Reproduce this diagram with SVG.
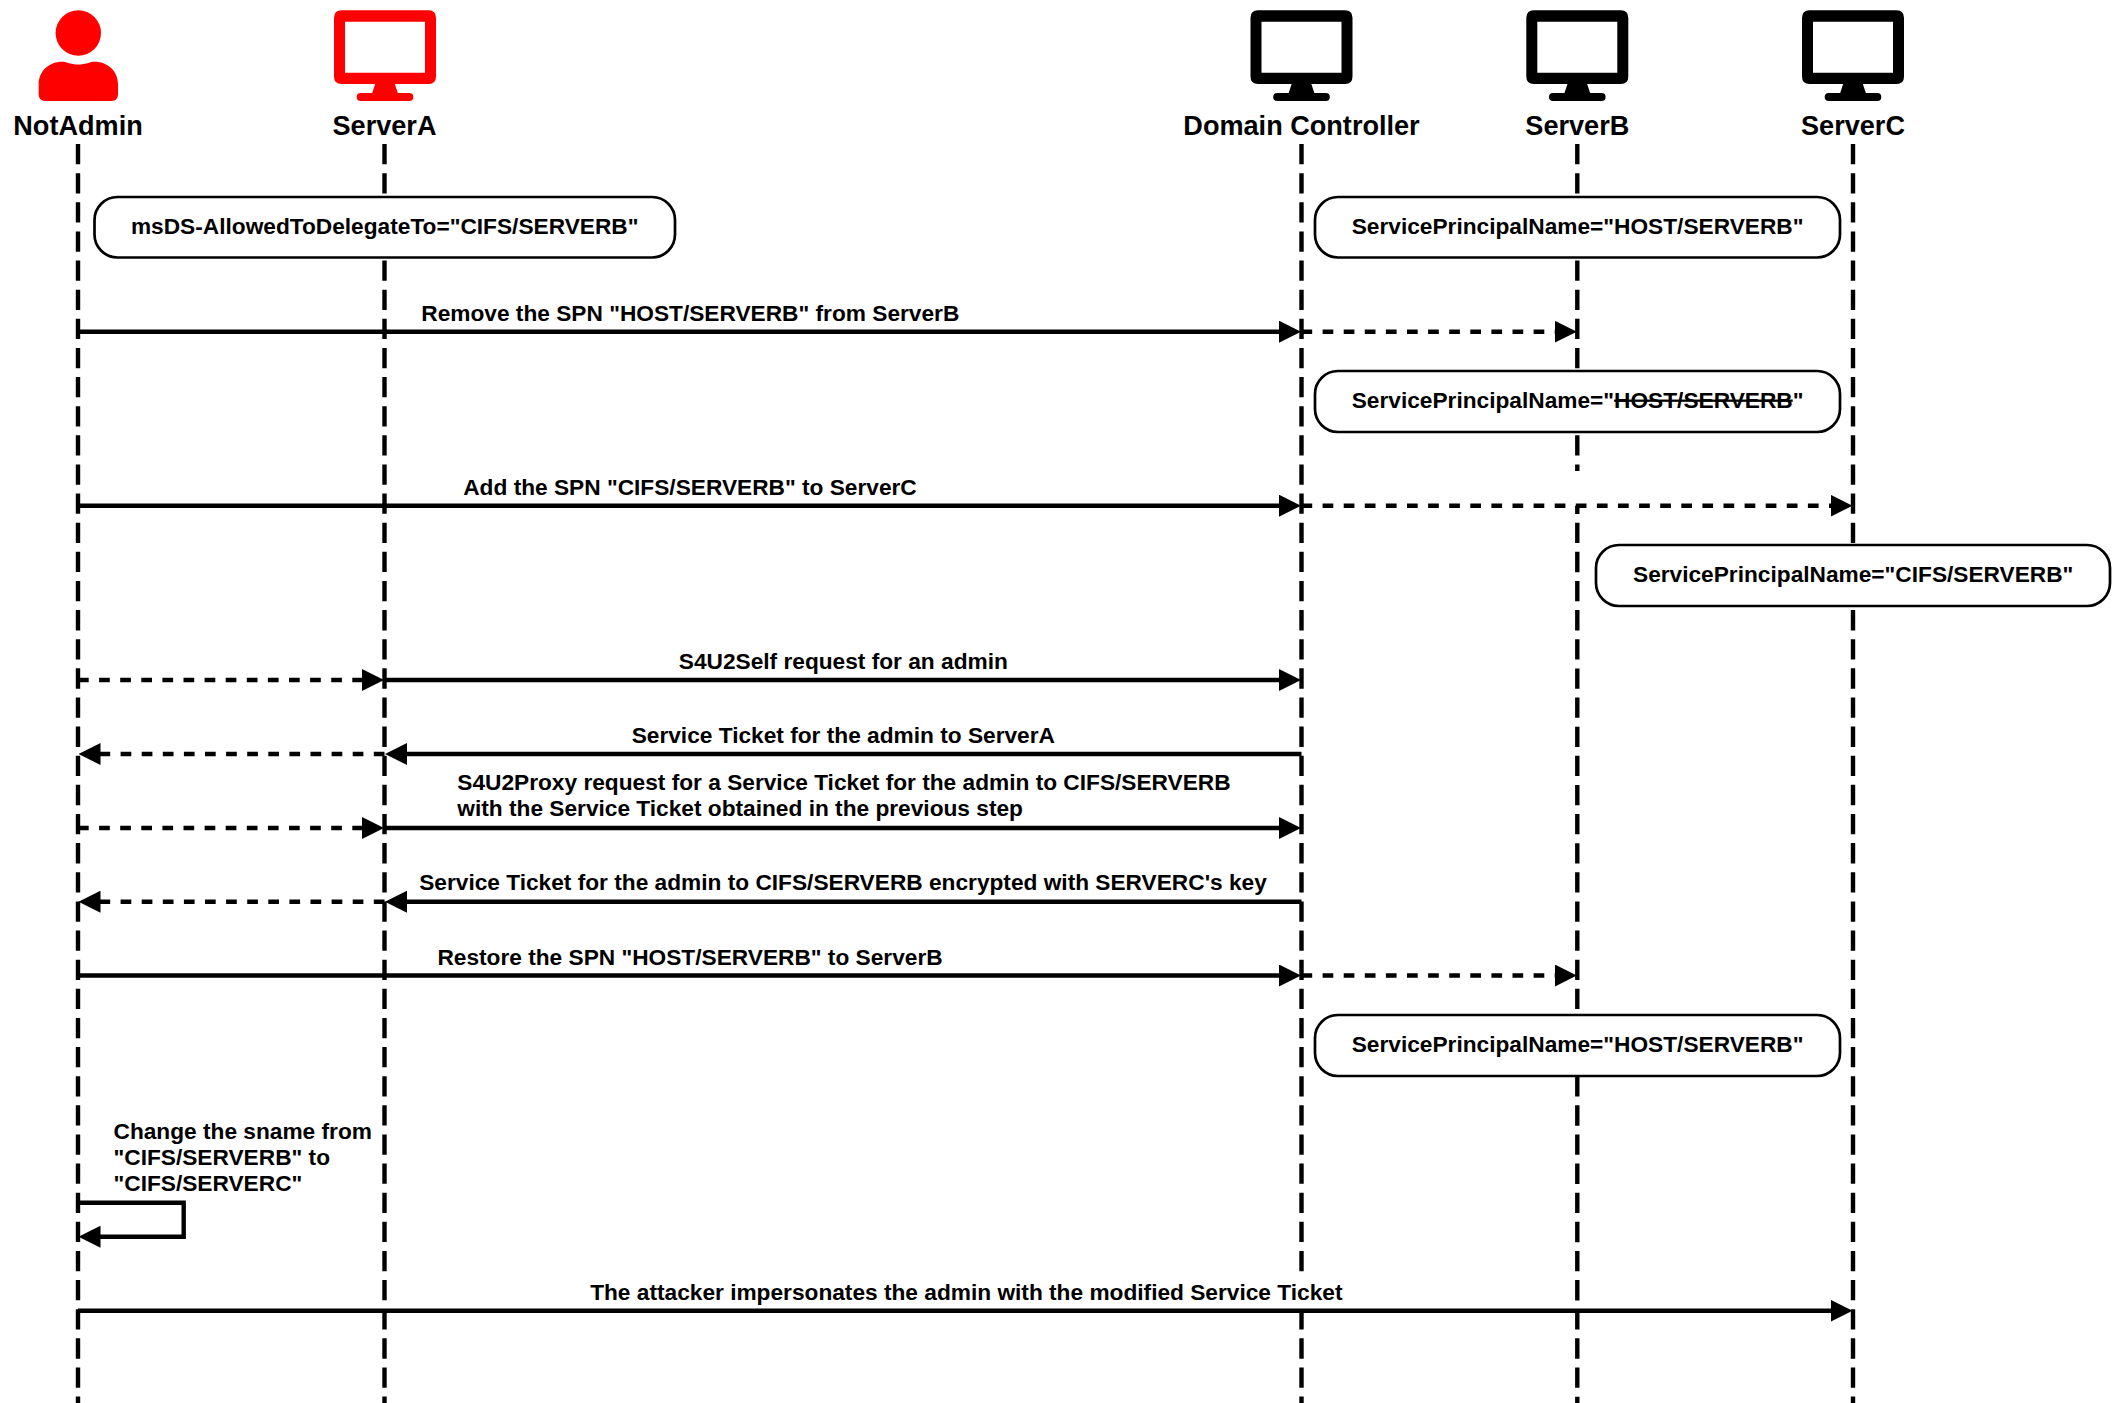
<svg xmlns="http://www.w3.org/2000/svg" width="2123" height="1403" viewBox="0 0 2123 1403">
<style>
text{font-family:"Liberation Sans",Arial,sans-serif;font-weight:bold;fill:#000;font-size:22.7px}
.head{font-size:27.1px;text-anchor:middle}
.mid{text-anchor:middle}
.life{fill:none;stroke:#000;stroke-width:4.4;stroke-dasharray:20.3 8.83}
.solid{fill:none;stroke:#000;stroke-width:4.4}
.dash{fill:none;stroke:#000;stroke-width:4.4;stroke-dasharray:10.7 10.4}
.box{fill:#fff;stroke:#000;stroke-width:2.7}
</style>
<defs>
<marker id="arrow" markerUnits="userSpaceOnUse" viewBox="0 0 22 22" refX="1" refY="11" markerWidth="22" markerHeight="22" orient="auto"><path d="M0 0L22 11L0 22Z" fill="#000"/></marker>
<g id="monitor"><path fill-rule="evenodd" d="M-43.5 10.3H43.5Q51 10.3 51 17.8V76.5Q51 84 43.5 84H-43.5Q-51 84 -51 76.5V17.8Q-51 10.3 -43.5 10.3ZM-40 21.7V72.7H40V21.7Z"/><path d="M-9.5 83H9.5L13 93.5H-13Z"/><rect x="-28.3" y="93" width="56.6" height="8" rx="4"/></g>
</defs>
<g id="lifelines">
<path class="life" d="M78 144V1403"/>
<path class="life" d="M384.5 144V1403"/>
<path class="life" d="M1301.5 144V1403"/>
<path class="life" d="M1577.3 144V471"/>
<path class="life" stroke-dashoffset="12.1" d="M1577.3 505.7V1403"/>
<path class="life" d="M1853 144V1403"/>
</g>
<g id="NotAdmin"><circle cx="78.3" cy="33" r="22.7" fill="#f00"/><path fill="#f00" d="M45 101Q38.7 101 38.7 94V85C38.7 70 50 61.7 62 61.7C68 61.7 70 64.5 78.3 64.5C86.6 64.5 88.6 61.7 94.7 61.7C106.7 61.7 118 70 118 85V94Q118 101 111.7 101Z"/><text class="head" x="78" y="134.7">NotAdmin</text></g>
<g id="ServerA"><use href="#monitor" x="385" fill="#f00"/><text class="head" x="384.5" y="134.7">ServerA</text></g>
<g id="DomainController"><use href="#monitor" x="1301.5"/><text class="head" x="1301.5" y="134.7">Domain Controller</text></g>
<g id="ServerB"><use href="#monitor" x="1577.3"/><text class="head" x="1577.3" y="134.7">ServerB</text></g>
<g id="ServerC"><use href="#monitor" x="1853"/><text class="head" x="1853" y="134.7">ServerC</text></g>
<g id="note1"><rect class="box" x="94.5" y="197" width="580.5" height="60.5" rx="23"/><text class="mid" x="384.7" y="233.7">msDS-AllowedToDelegateTo="CIFS/SERVERB"</text></g>
<g id="note2"><rect class="box" x="1315" y="197" width="525" height="60.5" rx="23"/><text class="mid" x="1577.6" y="233.7">ServicePrincipalName="HOST/SERVERB"</text></g>
<g id="note3"><rect class="box" x="1315" y="371" width="525" height="61" rx="23"/><text class="mid" x="1577.6" y="407.7">ServicePrincipalName="<tspan text-decoration="line-through">HOST/SERVERB</tspan>"</text></g>
<g id="note4"><rect class="box" x="1596" y="545" width="514" height="61" rx="23"/><text class="mid" x="1853.2" y="581.7">ServicePrincipalName="CIFS/SERVERB"</text></g>
<g id="note5"><rect class="box" x="1315" y="1015" width="525" height="61" rx="23"/><text class="mid" x="1577.6" y="1051.7">ServicePrincipalName="HOST/SERVERB"</text></g>
<rect x="590" y="1279" width="752" height="28" fill="#fff"/>
<g id="connectors">
<path class="solid" marker-end="url(#arrow)" d="M78 331.7H1280"/>
<path class="dash" marker-end="url(#arrow)" d="M1301.5 331.7H1555.8"/>
<path class="solid" marker-end="url(#arrow)" d="M78 505.7H1280"/>
<path class="dash" marker-end="url(#arrow)" d="M1301.5 505.7H1831.5"/>
<path class="dash" marker-end="url(#arrow)" d="M78 680H363"/>
<path class="solid" marker-end="url(#arrow)" d="M384.5 680H1280"/>
<path class="solid" marker-end="url(#arrow)" d="M1301.5 754H406"/>
<path class="dash" marker-end="url(#arrow)" d="M384.5 754H99.5"/>
<path class="dash" marker-end="url(#arrow)" d="M78 828H363"/>
<path class="solid" marker-end="url(#arrow)" d="M384.5 828H1280"/>
<path class="solid" marker-end="url(#arrow)" d="M1301.5 901.7H406"/>
<path class="dash" marker-end="url(#arrow)" d="M384.5 901.7H99.5"/>
<path class="solid" marker-end="url(#arrow)" d="M78 975.5H1280"/>
<path class="dash" marker-end="url(#arrow)" d="M1301.5 975.5H1555.8"/>
<path class="solid" marker-end="url(#arrow)" d="M78 1202.7H183.7V1236.7H99.5"/>
<path class="solid" marker-end="url(#arrow)" d="M78 1310.7H1831.5"/>
</g>
<g id="labels">
<text class="mid" x="690.3" y="320.7">Remove the SPN "HOST/SERVERB" from ServerB</text>
<text class="mid" x="690" y="494.5">Add the SPN "CIFS/SERVERB" to ServerC</text>
<text class="mid" x="843.3" y="668.7">S4U2Self request for an admin</text>
<text class="mid" x="843.3" y="742.7">Service Ticket for the admin to ServerA</text>
<text x="457.3" y="790">S4U2Proxy request for a Service Ticket for the admin to CIFS/SERVERB</text>
<text x="457.3" y="816">with the Service Ticket obtained in the previous step</text>
<text class="mid" x="843" y="890">Service Ticket for the admin to CIFS/SERVERB encrypted with SERVERC's key</text>
<text class="mid" x="690" y="964.5">Restore the SPN "HOST/SERVERB" to ServerB</text>
<text x="113.5" y="1138.7">Change the sname from</text>
<text x="113.5" y="1165">"CIFS/SERVERB" to</text>
<text x="113.5" y="1191">"CIFS/SERVERC"</text>
<text class="mid" x="966.3" y="1299.7">The attacker impersonates the admin with the modified Service Ticket</text>
</g>
</svg>
